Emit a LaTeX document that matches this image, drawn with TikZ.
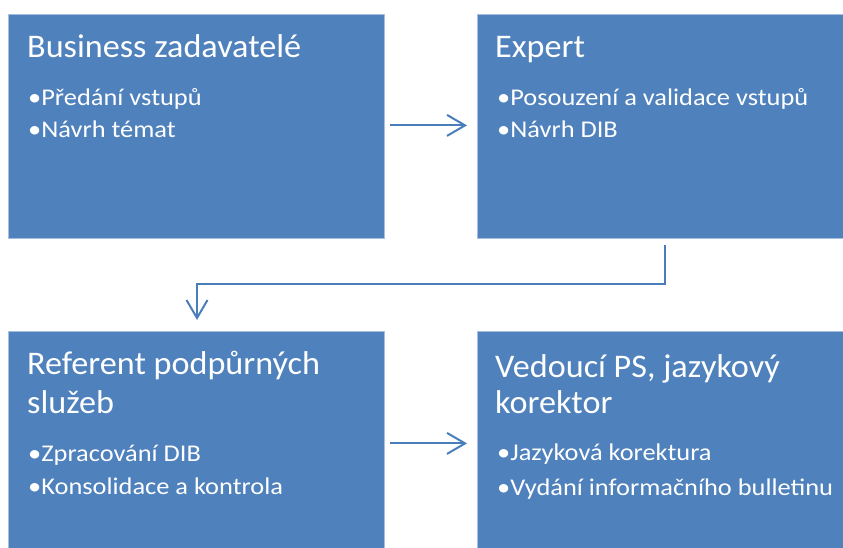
\documentclass[tikz,border=0pt]{standalone}
\usepackage{fontspec}
\setmainfont{Carlito}
\newfontfamily\headfont[FakeStretch=1.035]{Carlito}
\newfontfamily\itemfont[FakeStretch=1.10]{Carlito}
\usetikzlibrary{arrows.meta}
\definecolor{boxblue}{HTML}{4F81BD}
\definecolor{boxedge}{HTML}{A7BFDE}
\definecolor{flowblue}{HTML}{4A7EBB}
\begin{document}
\begin{tikzpicture}[x=1pt,y=-1pt,
  stage/.style={draw=boxedge,line width=0.8pt,fill=boxblue,rectangle,inner sep=0pt,anchor=north west},
  headtext/.style={anchor=base west,inner sep=0pt,text=white,font=\headfont\fontsize{33}{39}\selectfont},
  itemtext/.style={anchor=base west,inner sep=0pt,text=white,font=\itemfont\fontsize{24}{32}\selectfont},
  flow/.style={draw=flowblue,line width=2pt,-{Straight Barb[length=18pt,width=21pt,line width=2pt]}}]
\useasboundingbox (0,0) rectangle (843,548);
% the four stages
\node[stage,minimum width=376pt,minimum height=224pt] (biz) at (8,14) {};
\node[stage,minimum width=367pt,minimum height=224pt] (exp) at (477,14) {};
\node[stage,minimum width=376pt,minimum height=218pt] (ref) at (8,331) {};
\node[stage,minimum width=367pt,minimum height=218pt] (ved) at (477,331) {};
% texts of the first stage
\node[headtext] (biz-t) at (27,58) {Business zadavatelé};
\node[itemtext] (biz-a) at (28,106) {•Předání vstupů};
\node[itemtext] (biz-b) at (28,138) {•Návrh témat};
% texts of the second stage
\node[headtext] (exp-t) at (495,58) {Expert};
\node[itemtext] (exp-a) at (497,106) {•Posouzení a validace vstupů};
\node[itemtext] (exp-b) at (497,138) {•Návrh DIB};
% texts of the third stage
\node[headtext] (ref-t1) at (27,374) {Referent podpůrných};
\node[headtext] (ref-t2) at (27,413) {služeb};
\node[itemtext] (ref-a) at (28,461) {•Zpracování DIB};
\node[itemtext] (ref-b) at (28,494) {•Konsolidace a kontrola};
% texts of the fourth stage
\node[headtext] (ved-t1) at (495,377) {Vedoucí PS, jazykový};
\node[headtext] (ved-t2) at (495,413) {korektor};
\node[itemtext] (ved-a) at (497,460) {•Jazyková korektura};
\node[itemtext] (ved-b) at (497,495) {•Vydání informačního bulletinu};
% connectors (shifts are in page units: positive yshift points up)
\draw[flow] ([xshift=5pt,yshift=1pt]biz.east) -- ([xshift=-10pt,yshift=1pt]exp.west);
\coordinate (turn) at (197,284);
\draw[flow] ([xshift=188pt,yshift=-6pt]exp.south west) |- (turn)
  -- ([yshift=11pt]turn |- ref.north);
\draw[flow] ([xshift=5pt,yshift=-3pt]ref.east) -- ([xshift=-10pt,yshift=-3pt]ved.west);
\end{tikzpicture}
\end{document}
